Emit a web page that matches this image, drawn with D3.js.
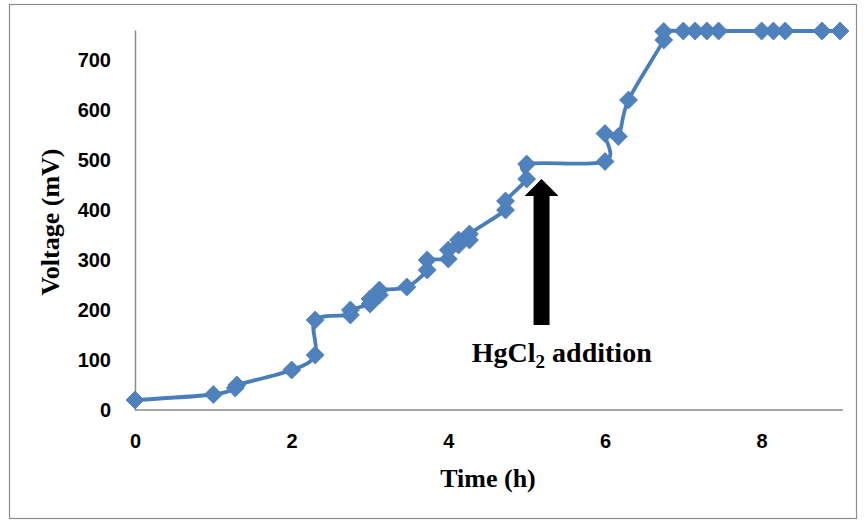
<!DOCTYPE html>
<html>
<head>
<meta charset="utf-8">
<script src="https://cdn.jsdelivr.net/npm/d3@7"></script>
<style>
  html, body { margin: 0; padding: 0; background: #fff; }
  svg { display: block; }
</style>
</head>
<body>
<svg id="chart" width="865" height="523"></svg>
<script>
// ---- data ----
const timeH = [0, 1, 1.28, 1.3, 2, 2.3, 2.3, 2.75, 2.75, 3, 3, 3.12, 3.12, 3.47, 3.73, 3.73, 4, 4, 4.13, 4.13, 4.27, 4.27, 4.73, 4.73, 5, 5, 6, 6, 6.17, 6.3, 6.75, 6.75, 7, 7.15, 7.3, 7.45, 8, 8.15, 8.3, 8.77, 9];
const voltage = [20, 31, 44, 50, 80, 110, 180, 190, 200, 212, 222, 230, 240, 246, 280, 300, 302, 320, 330, 340, 340, 352, 400, 418, 462, 492, 497, 553, 547, 620, 740, 757, 758, 758, 758, 758, 758, 758, 758, 758, 758];
const yTicks = [0, 100, 200, 300, 400, 500, 600, 700];
const xTicks = [0, 2, 4, 6, 8];
const xTitle = "Time (h)";
const yTitle = "Voltage (mV)";
const annotation = { time: 5.19, tipV: 462, headV: 428, baseV: 170, labelTime: 4.30, labelV: 96 };

const points = timeH.map((t, i) => ({ t, v: voltage[i] }));

const svg = d3.select("#chart");

// outer frame
svg.append("rect")
  .attr("x", 9.5).attr("y", 4.5).attr("width", 847).attr("height", 514)
  .attr("fill", "#fff").attr("stroke", "#8c8c8c").attr("stroke-width", 1.2);

const x = d3.scaleLinear().domain([0, 9]).range([135, 840]);
const y = d3.scaleLinear().domain([0, 760]).range([410, 30]);

const axisColor = "#8a8a8a";
const tickFont = "'Liberation Sans', Arial, sans-serif";
const serif = "'Liberation Serif', 'Times New Roman', serif";

// y axis
const gy = svg.append("g").attr("transform", `translate(${x(0)},0)`)
  .call(d3.axisLeft(y).tickValues(yTicks).tickSize(0).tickPadding(24));
gy.select(".domain").attr("stroke", axisColor).attr("stroke-width", 1.5);
gy.selectAll("text").attr("font-family", tickFont).attr("font-weight", "bold")
  .attr("font-size", 20).attr("fill", "#000");

// x axis
const gx = svg.append("g").attr("transform", `translate(0,${y(0)})`)
  .call(d3.axisBottom(x).tickValues(xTicks).tickSize(0).tickPadding(24));
gx.select(".domain").attr("stroke", axisColor).attr("stroke-width", 1.5)
  .attr("d", `M${x(0)},0H${x(9) + 3}`);
gx.selectAll("text").attr("font-family", tickFont).attr("font-weight", "bold")
  .attr("font-size", 20).attr("fill", "#000");

// axis titles
svg.append("text")
  .attr("x", 488).attr("y", 487)
  .attr("text-anchor", "middle")
  .attr("font-family", serif).attr("font-weight", "bold").attr("font-size", 26)
  .text(xTitle);

svg.append("text")
  .attr("transform", "translate(59,222) rotate(-90)")
  .attr("text-anchor", "middle")
  .attr("font-family", serif).attr("font-weight", "bold").attr("font-size", 26)
  .text(yTitle);

// series line (smoothed, uniform Catmull-Rom like the spreadsheet smoothing)
const line = d3.line().x(d => x(d.t)).y(d => y(d.v)).curve(d3.curveCatmullRom.alpha(0));
svg.append("path").datum(points)
  .attr("d", line)
  .attr("fill", "none").attr("stroke", "#4A7EBB").attr("stroke-width", 3.8)
  .attr("stroke-linejoin", "round");

// diamond markers
const r = 9;
svg.append("g").selectAll("path").data(points).join("path")
  .attr("d", d => {
    const cx = x(d.t), cy = y(d.v);
    return `M${cx},${cy - r}L${cx + r},${cy}L${cx},${cy + r}L${cx - r},${cy}Z`;
  })
  .attr("fill", "#4F81BD").attr("stroke", "#4A7EBB").attr("stroke-width", 0.8);

// arrow annotation
const ax = x(annotation.time);
const arrowPts = [
  [ax, y(annotation.tipV)],
  [ax + 17, y(annotation.headV)],
  [ax + 8, y(annotation.headV)],
  [ax + 8, y(annotation.baseV)],
  [ax - 8, y(annotation.baseV)],
  [ax - 8, y(annotation.headV)],
  [ax - 17, y(annotation.headV)]
];
svg.append("polygon")
  .attr("points", arrowPts.map(p => p.join(",")).join(" "))
  .attr("fill", "#000");

const lab = svg.append("text")
  .attr("x", x(annotation.labelTime)).attr("y", y(annotation.labelV))
  .attr("font-family", serif).attr("font-weight", "bold").attr("font-size", 28)
  .attr("fill", "#000");
lab.append("tspan").text("HgCl");
lab.append("tspan").attr("font-size", 19).attr("dy", 6).text("2");
lab.append("tspan").attr("dy", -6).text(" addition");
</script>
</body>
</html>
